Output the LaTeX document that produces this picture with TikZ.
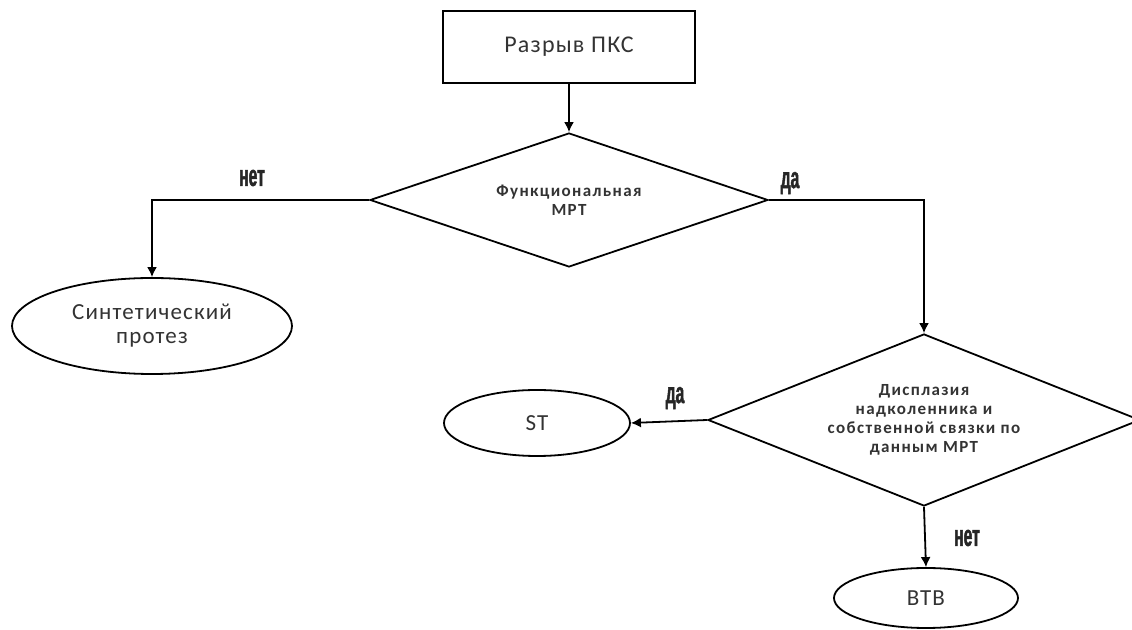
\documentclass[tikz,border=0pt]{standalone}
\usepackage{fontspec}
\setmainfont{Carlito}
\newfontfamily\spacedfont{Carlito}[LetterSpace=5]
\newfontfamily\widefont{Carlito}[LetterSpace=8]
\newfontfamily\answerfont{Liberation Sans}[FakeStretch=0.52,FakeBold=1.5]
\usetikzlibrary{arrows.meta,shapes.geometric}
\tikzset{%
  >={Latex[width=5pt,length=5pt]},
  % Specifications for style of nodes:
        base/.style = {draw=black, line width=0.9pt, text=black!80,
                       align=center, inner sep=0pt},
       start/.style = {base, rectangle, minimum width=126pt,
                       minimum height=36pt, font=\spacedfont\fontsize{12}{14}\selectfont},
    decision/.style = {base, diamond, aspect=2.2,
                       font=\widefont\bfseries\fontsize{8.5}{9.5}\selectfont},
     outcome/.style = {base, ellipse,
                       font=\spacedfont\fontsize{11.5}{12}\selectfont},
      answer/.style = {font=\answerfont\bfseries\fontsize{15}{16}\selectfont,
                       text=black!85, inner sep=0pt},
}

\begin{document}
\begin{tikzpicture}[x=0.5pt, y=-0.5pt, line width=0.9pt]
\useasboundingbox (0,0) rectangle (1132,630);

\node (break)  [start] at (569,47)      {Разрыв ПКС};

\node (fmri)   [decision, minimum width=199pt, minimum height=67pt]
               at (569,200)              {Функциональная\\МРТ};

\node (synth)  [outcome, minimum width=140pt, minimum height=48pt]
               at (152,326)              {Синтетический\\протез};

\node (dysp)   [decision, minimum width=216pt, minimum height=86pt]
               at (924,420)              {Дисплазия\\надколенника и\\собственной связки по\\данным МРТ};

\node (st)     [outcome, minimum width=93pt, minimum height=33pt]
               at (537,423)              {ST};

\node (btb)    [outcome, minimum width=92pt, minimum height=30pt]
               at (926,598)              {ВТВ};

\draw[->]             (break) -- (fmri);
\draw[->]             (fmri.west) -| (synth.north);
\draw[->]             (fmri.east) -| (dysp.north);
\draw[->]             (dysp.west) -- (st.east);
\draw[->]             (dysp.south) -- (btb.north);

\node (noA)    [answer] at (252,178)     {нет};
\node (yesA)   [answer] at (790,183)     {да};
\node (yesB)   [answer] at (675,398)     {да};
\node (noB)    [answer] at (967,538)     {нет};
\end{tikzpicture}
\end{document}
